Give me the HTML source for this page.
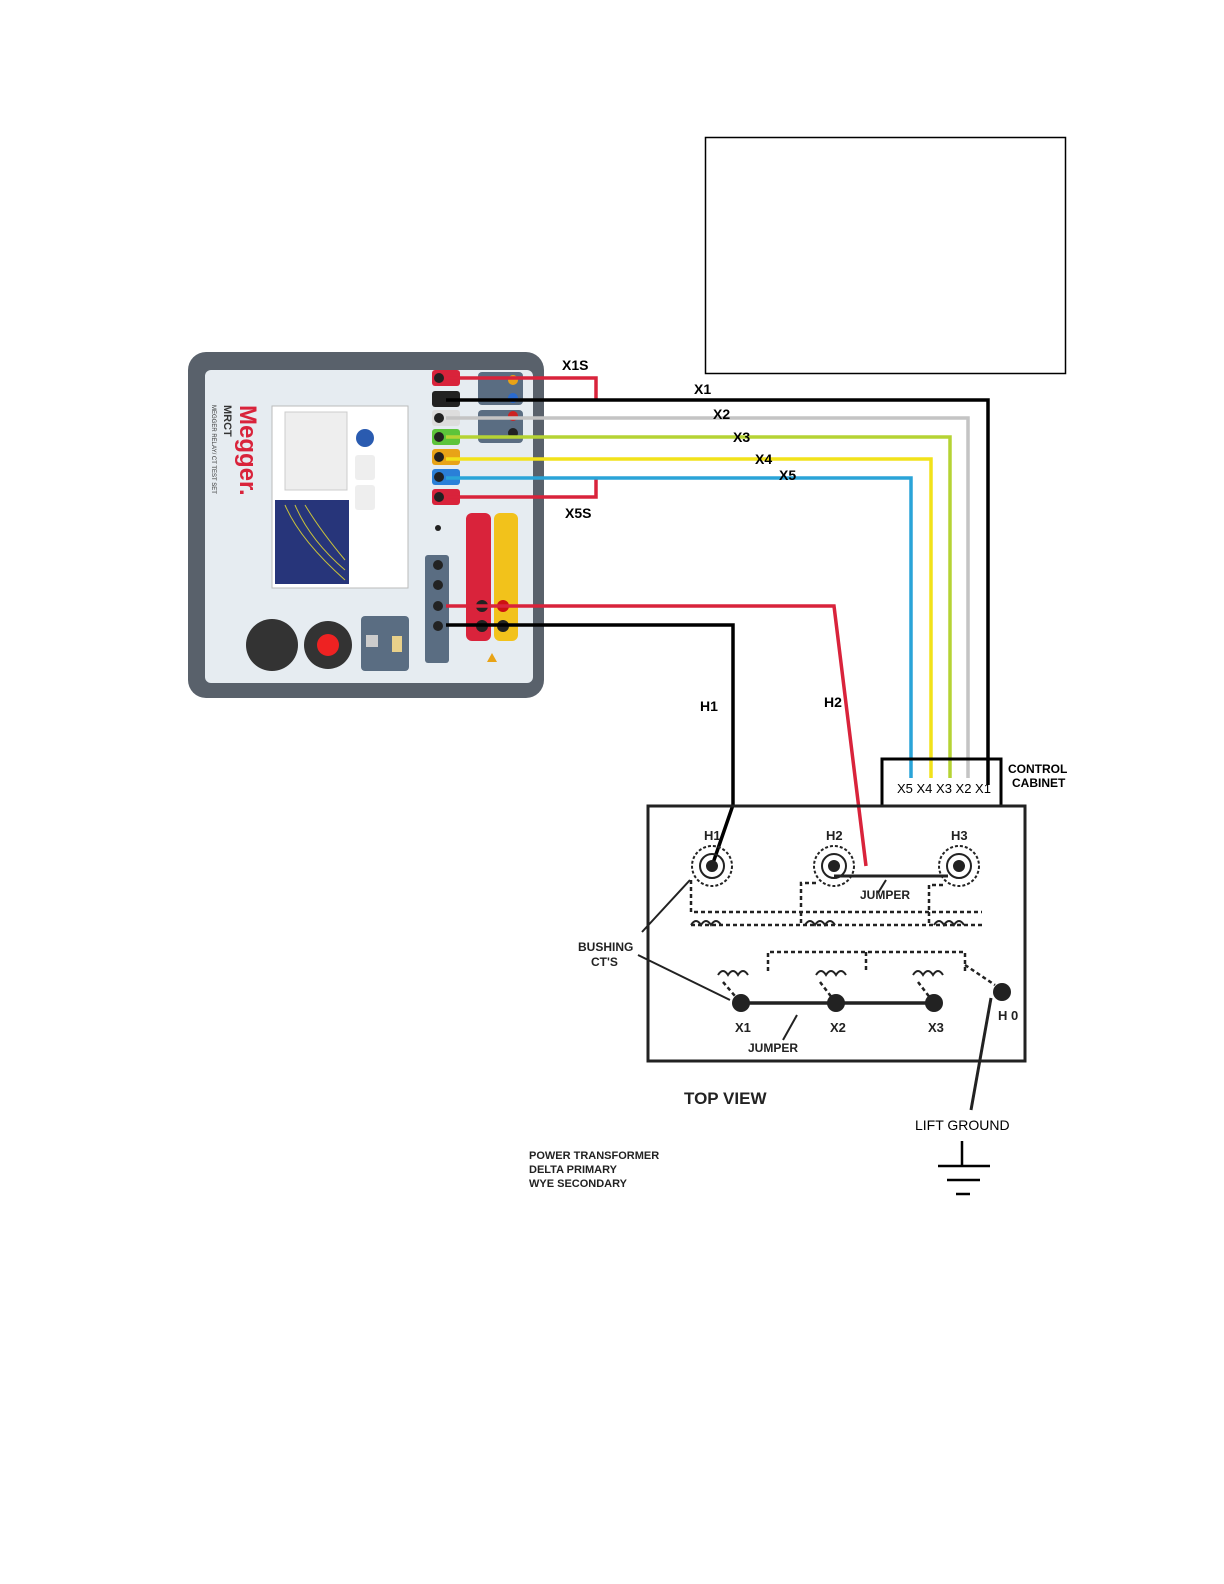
<!DOCTYPE html>
<html><head><style>
html,body{margin:0;padding:0;background:#fff;overflow:hidden;width:1224px;height:1584px;}
svg{display:block;position:absolute;left:0;top:0;}
text{font-family:"Liberation Sans",sans-serif;}
</style></head><body>
<svg width="1224" height="1584" viewBox="0 0 1224 1584" xmlns="http://www.w3.org/2000/svg">
<rect x="705.5" y="137.5" width="360" height="236" fill="none" stroke="#000" stroke-width="1.5"/>
<!-- device -->
<rect x="188" y="352" width="356" height="346" rx="18" fill="#59616b"/>
<rect x="205" y="370" width="328" height="313" rx="6" fill="#e6ecf1"/>
<text transform="translate(240,405) rotate(90)" font-size="24" font-weight="bold" fill="#d9233b">Megger.</text>
<text transform="translate(224,405) rotate(90)" font-size="11" font-weight="bold" fill="#333">MRCT</text>
<text transform="translate(212,405) rotate(90)" font-size="6" fill="#333">MEGGER RELAY/ CT TEST SET</text>
<rect x="272" y="406" width="136" height="182" fill="#fff" stroke="#bbb"/>
<rect x="285" y="412" width="62" height="78" fill="#eee" stroke="#ccc"/>
<rect x="275" y="500" width="74" height="84" fill="#27357a"/>
<path d="M285 505 Q300 540 345 580 M295 505 Q310 540 345 570 M305 505 Q320 530 345 560" stroke="#c9c23a" fill="none"/>
<circle cx="365" cy="438" r="9" fill="#2a5bb0"/>
<rect x="355" y="455" width="20" height="25" rx="3" fill="#eee"/>
<rect x="355" y="485" width="20" height="25" rx="3" fill="#eee"/>
<rect x="478" y="372" width="45" height="33" rx="4" fill="#5a6d82"/>
<rect x="478" y="410" width="45" height="33" rx="4" fill="#5a6d82"/>
<circle cx="513" cy="380" r="5" fill="#e8a317"/>
<circle cx="513" cy="398" r="5" fill="#2a6bd0"/>
<circle cx="513" cy="416" r="5" fill="#c22"/>
<circle cx="513" cy="433" r="5" fill="#222"/>
<rect x="432" y="370" width="28" height="16" rx="3" fill="#d9233b"/>
<rect x="432" y="391" width="28" height="16" rx="3" fill="#222"/>
<rect x="432" y="410" width="28" height="16" rx="3" fill="#ddd"/>
<rect x="432" y="429" width="28" height="16" rx="3" fill="#5cc43a"/>
<rect x="432" y="449" width="28" height="16" rx="3" fill="#e8a317"/>
<rect x="432" y="469" width="28" height="16" rx="3" fill="#2a7fd8"/>
<rect x="432" y="489" width="28" height="16" rx="3" fill="#d9233b"/>
<g fill="#222"><circle cx="439" cy="378" r="5"/><circle cx="439" cy="399" r="5"/><circle cx="439" cy="418" r="5"/><circle cx="439" cy="437" r="5"/><circle cx="439" cy="457" r="5"/><circle cx="439" cy="477" r="5"/><circle cx="439" cy="497" r="5"/></g>
<circle cx="438" cy="528" r="3" fill="#222"/>
<rect x="425" y="555" width="24" height="108" rx="3" fill="#5a6d82"/>
<g fill="#222"><circle cx="438" cy="565" r="5"/><circle cx="438" cy="585" r="5"/><circle cx="438" cy="606" r="5"/><circle cx="438" cy="626" r="5"/></g>
<rect x="466" y="513" width="25" height="128" rx="6" fill="#d9233b"/>
<rect x="494" y="513" width="24" height="128" rx="6" fill="#f2c21b"/>
<circle cx="482" cy="606" r="6" fill="#222"/><circle cx="503" cy="606" r="6" fill="#c11"/>
<circle cx="482" cy="626" r="6" fill="#222"/><circle cx="503" cy="626" r="6" fill="#222"/>
<path d="M487 662 l5 -9 l5 9z" fill="#e8a317"/>
<rect x="361" y="616" width="48" height="55" rx="4" fill="#5a6d82"/>
<rect x="366" y="635" width="12" height="12" fill="#ccc"/><rect x="392" y="636" width="10" height="16" fill="#e8d08a"/>
<circle cx="272" cy="645" r="26" fill="#333"/>
<circle cx="328" cy="645" r="24" fill="#333"/><circle cx="328" cy="645" r="11" fill="#e22"/>
<!-- wires -->
<g fill="none" stroke-width="3.5">
<path d="M446 378 H596 V400" stroke="#d9233b"/>
<path d="M446 497 H596 V478" stroke="#d9233b"/>
<path d="M446 400 H988 V785" stroke="#000"/>
<path d="M446 418 H968 V778" stroke="#c4c4c4"/>
<path d="M446 437 H950 V778" stroke="#b5d334"/>
<path d="M446 459 H931 V778" stroke="#f2e21a"/>
<path d="M446 478 H911 V778" stroke="#2aa4d8"/>
<path d="M446 606 H834 L866 866" stroke="#d9233b"/>
<path d="M446 625 H733 V805 L712 866" stroke="#000"/>
</g>
<g font-size="14" font-weight="bold">
<text x="562" y="370">X1S</text><text x="565" y="518">X5S</text>
<text x="694" y="394">X1</text><text x="713" y="419">X2</text><text x="733" y="442">X3</text><text x="755" y="464">X4</text><text x="779" y="480">X5</text>
<text x="700" y="711">H1</text><text x="824" y="707">H2</text>
</g>
<!-- control cabinet -->
<path d="M882 806 V759 H1001 V806" fill="none" stroke="#000" stroke-width="3"/>
<text x="897" y="793" font-size="13">X5 X4 X3 X2 X1</text>
<text x="1008" y="773" font-size="12" font-weight="bold">CONTROL</text>
<text x="1012" y="787" font-size="12" font-weight="bold">CABINET</text>
<!-- transformer -->
<rect x="648" y="806" width="377" height="255" fill="none" stroke="#222" stroke-width="3"/>
<g fill="none" stroke="#222" stroke-width="2">
<circle cx="712" cy="866" r="20" stroke-dasharray="3 2"/><circle cx="712" cy="866" r="12"/><circle cx="712" cy="866" r="5" fill="#222"/>
<circle cx="834" cy="866" r="20" stroke-dasharray="3 2"/><circle cx="834" cy="866" r="12"/><circle cx="834" cy="866" r="5" fill="#222"/>
<circle cx="959" cy="866" r="20" stroke-dasharray="3 2"/><circle cx="959" cy="866" r="12"/><circle cx="959" cy="866" r="5" fill="#222"/>
<path d="M834 876 H948" stroke-width="3"/>
<g stroke-dasharray="4 3" stroke-width="2.5">
<path d="M691 880 V912 H982 M691 925 H982 M801 907 V883 H818 M929 910 V885 H945 M801 912 V925 M929 912 V925"/>
<path d="M768 971 V952 H965 V971 M866 952 V971 M965 965 L995 985 M723 982 L741 1003 M820 982 L836 1003 M918 982 L934 1003"/>
</g>
<path d="M691 925 q5 -8 10 0 q5 -8 10 0 q5 -8 10 0 M805 925 q5 -8 10 0 q5 -8 10 0 q5 -8 10 0 M934 925 q5 -8 10 0 q5 -8 10 0 q5 -8 10 0"/>
<path d="M718 975 q5 -8 10 0 q5 -8 10 0 q5 -8 10 0 M816 975 q5 -8 10 0 q5 -8 10 0 q5 -8 10 0 M913 975 q5 -8 10 0 q5 -8 10 0 q5 -8 10 0"/>
<path d="M741 1003 H934" stroke-width="3.5"/>
<path d="M690 880 L642 932 M638 955 L730 1000 M797 1015 L783 1040 M886 880 L878 893"/>
<path d="M991 998 L971 1110" stroke-width="3"/>
</g>
<g fill="#222"><circle cx="741" cy="1003" r="9"/><circle cx="836" cy="1003" r="9"/><circle cx="934" cy="1003" r="9"/><circle cx="1002" cy="992" r="9"/></g>
<g font-size="13" font-weight="bold" fill="#222">
<text x="704" y="840">H1</text><text x="826" y="840">H2</text><text x="951" y="840">H3</text>
<text x="860" y="899" font-size="12">JUMPER</text>
<text x="578" y="951" font-size="12">BUSHING</text><text x="591" y="966" font-size="12">CT'S</text>
<text x="735" y="1032">X1</text><text x="830" y="1032">X2</text><text x="928" y="1032">X3</text><text x="998" y="1020">H 0</text>
<text x="748" y="1052" font-size="12">JUMPER</text>
<text x="684" y="1104" font-size="17">TOP VIEW</text>
<text x="529" y="1159" font-size="11">POWER TRANSFORMER</text>
<text x="529" y="1173" font-size="11">DELTA PRIMARY</text>
<text x="529" y="1187" font-size="11">WYE SECONDARY</text>
</g>
<text x="915" y="1130" font-size="14">LIFT GROUND</text>
<g stroke="#000" stroke-width="2.5"><path d="M962 1141 V1166 M938 1166 H990 M947 1180 H980 M956 1194 H970"/></g>
</svg>
</body></html>
